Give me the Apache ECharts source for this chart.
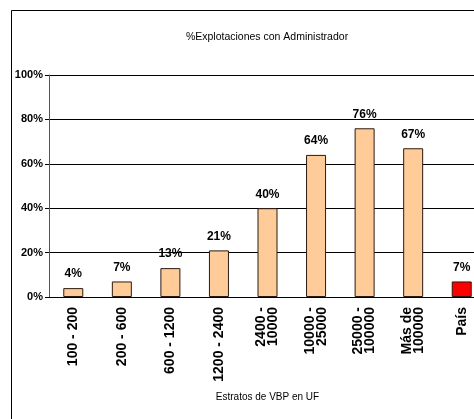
<!DOCTYPE html>
<html>
<head>
<meta charset="utf-8">
<script src="https://cdn.jsdelivr.net/npm/echarts@6/dist/echarts.min.js"></script>
<style>
  html, body { margin: 0; padding: 0; background: #fff; overflow: hidden; }
  #chart { width: 520px; height: 419px; }
</style>
</head>
<body>
<div id="chart"></div>
<script>
// estratos de VBP (UF)
const categories = ['100 - 200', '200 - 600', '600 - 1200', '1200 - 2400', '2400 -\n10000', '10000 -\n25000', '25000 -\n100000', 'Más de\n100000', 'País'];
const values = [4, 7, 13, 21, 40, 64, 76, 67, 7];
const yTicks = [0, 20, 40, 60, 80, 100];

const sans = '"Liberation Sans", Arial, sans-serif';

const chart = echarts.init(document.getElementById('chart'));

chart.setOption({
  animation: false,
  backgroundColor: '#fff',
  title: {
    text: '%Explotaciones con Administrador',
    left: 262,
    textAlign: 'center',
    top: 27,
    textStyle: { fontFamily: sans, fontSize: 10.5, fontWeight: 'normal', color: '#000' }
  },
  graphic: [{
    type: 'rect',
    shape: { x: 11.5, y: 10.5, width: 502, height: 420 },
    style: { fill: 'none', stroke: '#000', lineWidth: 1 },
    silent: true
  }],
  grid: { left: 49, top: 75, width: 437, height: 222 },
  xAxis: {
    type: 'category',
    data: categories,
    name: 'Estratos de VBP en UF',
    nameLocation: 'middle',
    nameGap: 95,
    nameTextStyle: { fontFamily: sans, fontSize: 10, color: '#000' },
    axisLine: { lineStyle: { color: '#000' } },
    axisTick: { length: 4, lineStyle: { color: '#000' } },
    axisLabel: {
      rotate: 90,
      margin: 10,
      fontFamily: sans,
      fontSize: 14,
      fontWeight: 'bold',
      color: '#000',
      lineHeight: 12,
      interval: 0
    }
  },
  yAxis: {
    type: 'value',
    min: yTicks[0],
    max: yTicks[yTicks.length - 1],
    interval: 20,
    axisLine: { show: true, lineStyle: { color: '#555' } },
    axisTick: { show: true, length: 4, lineStyle: { color: '#000' } },
    splitLine: { lineStyle: { color: '#000', width: 1 } },
    axisLabel: {
      formatter: '{value}%',
      margin: 6,
      fontFamily: sans,
      fontSize: 11,
      fontWeight: 'bold',
      color: '#000'
    }
  },
  series: [{
    type: 'bar',
    barWidth: 20,
    data: values.map((v, i) => ({
      value: v,
      itemStyle: { color: i === values.length - 1 ? '#FF0000' : '#FFCC99' }
    })),
    itemStyle: { borderColor: '#2a1a10', borderWidth: 1 },
    label: {
      show: true,
      position: 'top',
      distance: 8,
      formatter: '{c}%',
      fontFamily: sans,
      fontSize: 12,
      fontWeight: 'bold',
      color: '#000'
    }
  }]
});
</script>
</body>
</html>
